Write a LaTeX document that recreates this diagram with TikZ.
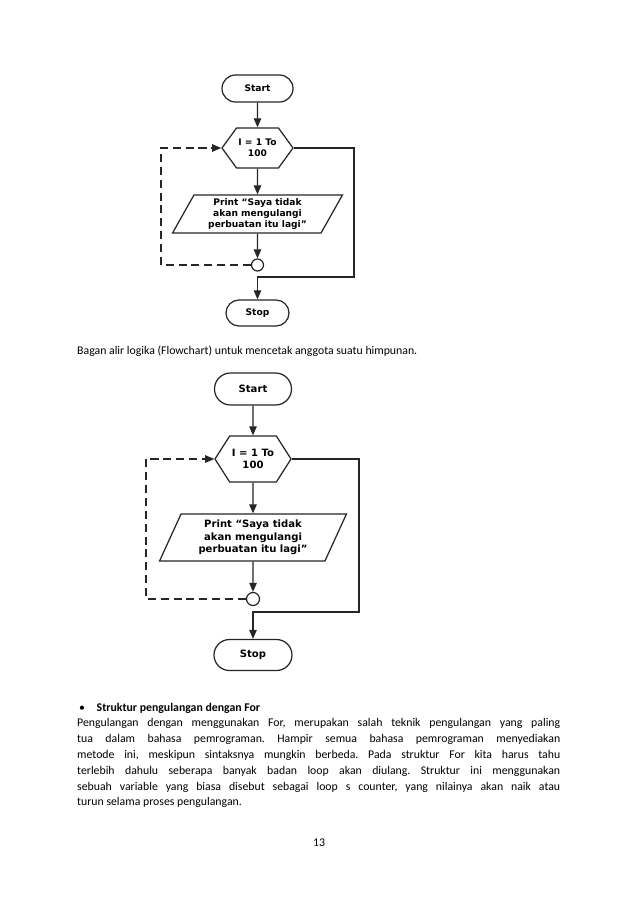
\documentclass[tikz,border=0pt]{standalone}
\usepackage{fontspec}
\setmainfont{Carlito}
\newfontfamily\chfont{DejaVu Sans}
\usetikzlibrary{shapes.misc,shapes.geometric,shapes.symbols,arrows.meta}
\newcommand\pxu{0.93304pt}
\begin{document}
\frenchspacing
\begin{tikzpicture}[x=0.93304pt,y=-0.93304pt,
  ln/.style={draw=black!85, line width=1.15pt},
  arr/.style={ln, -{Triangle[length=8.5pt,width=7pt]}},
  dsh/.style={arr, dash pattern=on 7.5pt off 4.5pt},
  shp/.style={ln, fill=white, inner sep=0pt, align=center},
  fa/.style={font=\chfont\bfseries\fontsize{8.5}{10.4}\selectfont},
  fb/.style={font=\chfont\bfseries\fontsize{9.4}{11.7}\selectfont},
  term/.style={shp, rounded rectangle},
  hexa/.style={shp, signal, signal to=east and west},
  para/.style={shp, trapezium, trapezium stretches=true},
  joint/.style={shp, circle},
  txt/.style={inner sep=0pt, font=\fontsize{11}{14.83}\selectfont}
]
\useasboundingbox (0,0) rectangle (638,902);
\fill[white] (0,0) rectangle (638,902);

% ---------- chart 1 ----------
\node[term, fa, minimum width=71*\pxu, minimum height=27*\pxu] (start1) at (257.5,88.5) {Start};
\node[hexa, fa, signal pointer angle=108, minimum width=71*\pxu, minimum height=40*\pxu] (hex1) at (257.5,148) {I = 1 To\\100};
\node[para, fa, trapezium left angle=62, trapezium right angle=118, minimum width=170*\pxu, minimum height=38*\pxu] (par1) at (257.5,214) {Print “Saya tidak\\akan mengulangi\\perbuatan itu lagi”};
\node[joint, minimum size=12*\pxu] (circ1) at (257.5,265) {};
\node[term, fa, minimum width=63*\pxu, minimum height=26*\pxu] (stop1) at (257.5,313) {Stop};
\coordinate (dl1) at (161,265);
\coordinate (rl1) at (354,277);

\draw[arr] (start1) -- (hex1);
\draw[arr] (hex1) -- (par1);
\draw[arr] (par1) -- (circ1);
\draw[dsh] (circ1.west) -- (dl1) |- (hex1.west);
\draw[arr] (hex1.east) -| (rl1) -| (stop1.north);

% ---------- caption ----------
\node[txt, anchor=base west] (cap) at (77,354) {Bagan alir logika (Flowchart) untuk mencetak anggota suatu himpunan.};

% ---------- chart 2 ----------
\node[term, fb, minimum width=77*\pxu, minimum height=32*\pxu] (start2) at (253,389) {Start};
\node[hexa, fb, signal pointer angle=115, minimum width=76*\pxu, minimum height=46*\pxu] (hex2) at (253,459) {I = 1 To\\100};
\node[para, fb, trapezium left angle=65, trapezium right angle=115, minimum width=187*\pxu, minimum height=47*\pxu] (par2) at (253,537.5) {Print “Saya tidak\\akan mengulangi\\perbuatan itu lagi”};
\node[joint, minimum size=13*\pxu] (circ2) at (253,599) {};
\node[term, fb, minimum width=78*\pxu, minimum height=31*\pxu] (stop2) at (253,655) {Stop};
\coordinate (dl2) at (146,599);
\coordinate (rl2) at (359,612);

\draw[arr] (start2) -- (hex2);
\draw[arr] (hex2) -- (par2);
\draw[arr] (par2) -- (circ2);
\draw[dsh] (circ2.west) -- (dl2) |- (hex2.west);
\draw[arr] (hex2.east) -| (rl2) -| (stop2.north);

% ---------- text ----------
\node[txt, anchor=base] (bul) at (82,711) {\textbullet};
\node[txt, anchor=base west, font=\fontsize{11}{14.83}\selectfont\bfseries] (head) at (96.5,711) {Struktur pengulangan dengan For};
\node[txt, anchor=base west, text width=450.7pt, align=justify] (body) at (77,726.5) {\tolerance=9999\hyphenpenalty=10000\emergencystretch=20pt
Pengulangan dengan menggunakan For, merupakan salah teknik pengulangan yang paling\linebreak
tua dalam bahasa pemrograman. Hampir semua bahasa pemrograman menyediakan\linebreak
metode ini, meskipun sintaksnya mungkin berbeda. Pada struktur For kita harus tahu\linebreak
terlebih dahulu seberapa banyak badan loop akan diulang. Struktur ini menggunakan\linebreak
sebuah variable yang biasa disebut sebagai loop s counter, yang nilainya akan naik atau\linebreak
turun selama proses pengulangan.};
\node[txt, anchor=base] (pg) at (319,846) {13};
\end{tikzpicture}
\end{document}
